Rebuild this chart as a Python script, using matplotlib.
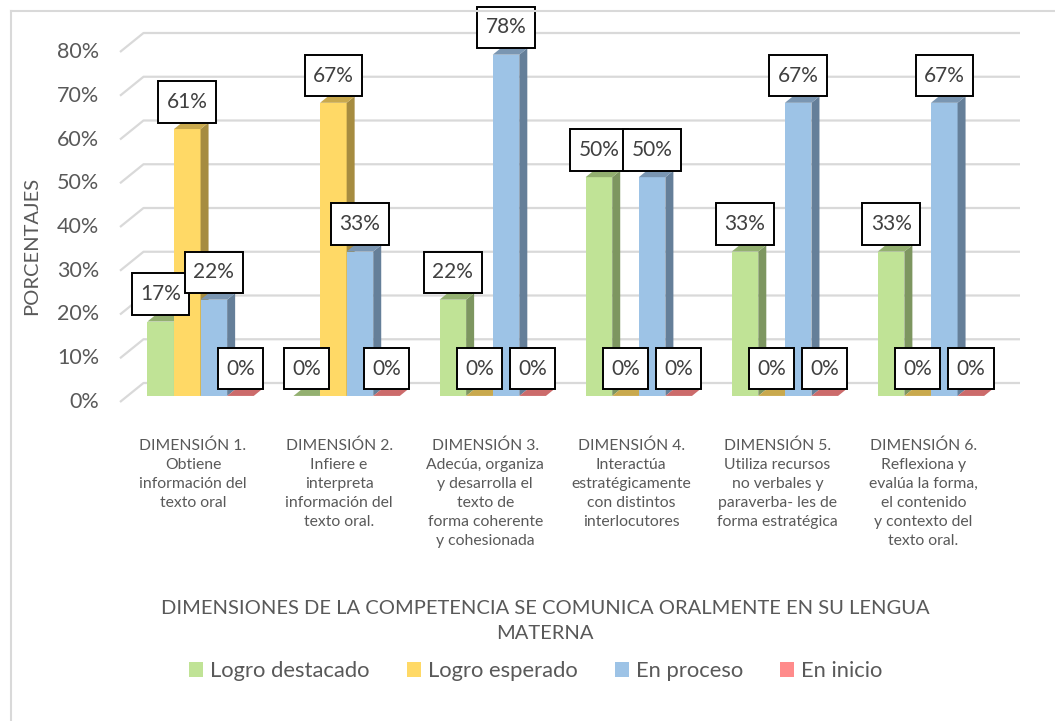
import matplotlib
matplotlib.use('Agg')
import matplotlib.pyplot as plt
from matplotlib.patches import Polygon, Patch
from matplotlib.lines import Line2D
from matplotlib.path import Path

plt.rcParams['font.family'] = ['Lato', 'DejaVu Sans']

categories = ['DIMENSIÓN 1.\nObtiene\ninformación del\ntexto oral',
              'DIMENSIÓN 2.\nInfiere e\ninterpreta\ninformación del\ntexto oral.',
              'DIMENSIÓN 3.\nAdecúa, organiza\ny desarrolla el\ntexto de\nforma coherente\ny cohesionada',
              'DIMENSIÓN 4.\nInteractúa\nestratégicamente\ncon distintos\ninterlocutores',
              'DIMENSIÓN 5.\nUtiliza recursos\nno verbales y\nparaverba- les de\nforma estratégica',
              'DIMENSIÓN 6.\nReflexiona y\nevalúa la forma,\nel contenido\ny contexto del\ntexto oral.']
series = ['Logro destacado', 'Logro esperado', 'En proceso', 'En inicio']
logro_destacado = [17, 0, 22, 50, 33, 33]
logro_esperado = [61, 67, 0, 0, 0, 0]
en_proceso = [22, 33, 78, 50, 67, 67]
en_inicio = [0, 0, 0, 0, 0, 0]
values = [logro_destacado, logro_esperado, en_proceso, en_inicio]
yticks = [0, 10, 20, 30, 40, 50, 60, 70, 80]

# front, top, side colours for each series
front_cols = ['#C0E396', '#FFD966', '#9DC3E6', '#FF8B8B']
top_cols = ['#93B070', '#C9A94D', '#7A96B2', '#CC6B6B']
side_cols = ['#7D9660', '#A68C40', '#657F99', '#A65A5A']
grid_col = '#D9D9D9'
text_col = '#595959'

W, H = 1055, 721
fig = plt.figure(figsize=(W / 100, H / 100), dpi=100)
# front plane of the floor: x 120..996.5 px, 0% at y=402, 80% at y=52
ax = fig.add_axes([120 / W, 1 - 402 / H, 876.5 / W, 350 / H])
ax.set_xlim(-0.5, 5.5)
ax.set_ylim(0, 80)
ax.axis('off')

# chart border (only top and left visible)
fig.add_artist(Line2D([11 / W, 11 / W], [0, 1 - 11 / H], color=grid_col, lw=1.5))
fig.add_artist(Line2D([11 / W, 1], [1 - 11 / H, 1 - 11 / H], color=grid_col, lw=1.5))

# depth of the 3d box in data units
DX = 23.5 / (876.5 / 6)
DY = 19 / (350 / 80)


def proj(x, y, z):
    return (x + z * DX, y + z * DY)


def label_box(x0, y0, width, height, mutation_size):
    # taller padding than wide, like the excel labels
    px = 0.40 * mutation_size
    py = 0.52 * mutation_size
    verts = [(x0 - px, y0 - py), (x0 + width + px, y0 - py),
             (x0 + width + px, y0 + height + py), (x0 - px, y0 + height + py),
             (x0 - px, y0 - py)]
    return Path(verts, closed=True)


# walls
for v in yticks:
    p0 = proj(-0.5, v, 0)
    p1 = proj(-0.5, v, 1)
    p2 = proj(5.5, v, 1)
    ax.plot([p0[0], p1[0], p2[0]], [p0[1], p1[1], p2[1]], color=grid_col,
            lw=1.6, clip_on=False, zorder=1, solid_capstyle='butt')
    ax.annotate(f'{v}%', (-0.5, v), xytext=(-15, 0), textcoords='offset points',
                ha='right', va='center', fontsize=15.5, color=text_col,
                annotation_clip=False)

bw = 0.182
z0, z1 = 0.32, 0.66
for i in range(len(categories)):
    for j in range(len(series)):
        v = values[j][i]
        x0 = i - 2 * bw + j * bw
        x1 = x0 + bw
        # front
        ax.add_patch(Polygon([proj(x0, 0, z0), proj(x1, 0, z0), proj(x1, v, z0), proj(x0, v, z0)],
                             closed=True, fc=front_cols[j], ec='none', zorder=2, clip_on=False))
        # side
        ax.add_patch(Polygon([proj(x1, 0, z0), proj(x1, v, z0), proj(x1, v, z1), proj(x1, 0, z1)],
                             closed=True, fc=side_cols[j], ec='none', zorder=2, clip_on=False))
        # top
        ax.add_patch(Polygon([proj(x0, v, z0), proj(x1, v, z0), proj(x1, v, z1), proj(x0, v, z1)],
                             closed=True, fc=top_cols[j], ec='none', zorder=2, clip_on=False))

# data labels
for i in range(len(categories)):
    for j in range(len(series)):
        v = values[j][i]
        xc = i - 2 * bw + j * bw + bw / 2
        lx, _ = proj(xc, v, z0)
        _, ly = proj(xc, v, z1)
        ax.annotate(f'{v}%', (lx, ly), xytext=(0, 15), textcoords='offset points',
                    ha='center', va='center', fontsize=15, color='#404040', zorder=5,
                    annotation_clip=False,
                    bbox=dict(boxstyle=label_box, fc='white', ec='black', lw=1.4))

# category labels
for i, lab in enumerate(categories):
    ax.annotate(lab, (i, 0), xytext=(0, -26.5), textcoords='offset points',
                ha='center', va='top', fontsize=11.3, color=text_col, linespacing=1.45,
                annotation_clip=False)

fig.text(32 / W, 1 - 246 / H, 'PORCENTAJES', rotation=90, ha='center', va='center',
         fontsize=14.5, color=text_col)

fig.text(545 / W, 1 - 621 / H,
         'DIMENSIONES DE LA COMPETENCIA SE COMUNICA ORALMENTE EN SU LENGUA\nMATERNA',
         ha='center', va='center', fontsize=14.5, color=text_col, linespacing=1.6)

handles = [Patch(fc=c, ec='none') for c in front_cols]
leg = fig.legend(handles, series, loc='center', bbox_to_anchor=(536 / W, 1 - 671 / H),
                 ncol=4, frameon=False, fontsize=15.8, handlelength=0.62, handleheight=0.68,
                 handletextpad=0.33, columnspacing=1.7)
for t in leg.get_texts():
    t.set_color(text_col)

fig.savefig('out.png', dpi=100)
